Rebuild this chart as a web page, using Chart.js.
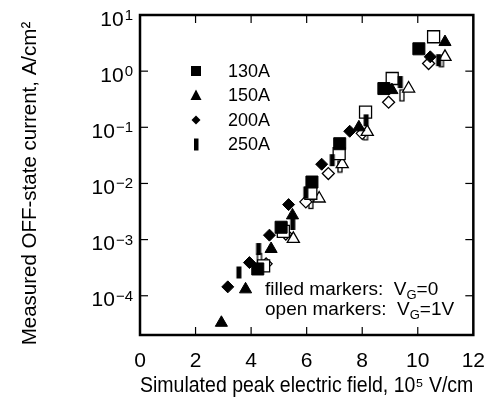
<!DOCTYPE html>
<html><head><meta charset="utf-8">
<script src="https://cdn.jsdelivr.net/npm/chart.js@4.4.1/dist/chart.umd.min.js"></script>
<style>html,body{margin:0;padding:0;background:#fff}canvas{display:block}</style>
</head><body>
<canvas id="c" width="499" height="410"></canvas>
<script>
const FONT = "'Liberation Sans', Arial, Helvetica, sans-serif";

// ---- tick labels / categories ----
const seriesNames = ['130A', '150A', '200A', '250A'];
const xTicks = [0, 2, 4, 6, 8, 10, 12];
const yTickExponents = [1, 0, -1, -2, -3, -4];
const xTitle = 'Simulated peak electric field, 10\u2075 V/cm';
const yTitle = 'Measured OFF-state current, A/cm\u00B2   ';

// ---- series: filled markers (V_G = 0) ----
const x130f = [4.24, 5.08, 6.19, 7.19, 8.78, 10.04];
const y130f = [3.0e-4, 1.66e-3, 1.06e-2, 5.1e-2, 0.49, 2.5];
const x150f = [2.93, 3.80, 4.72, 5.49, 7.88, 9.07, 10.98];
const y150f = [3.3e-5, 1.3e-4, 6.8e-4, 2.7e-3, 0.10, 0.46, 3.3];
const x200f = [3.16, 3.94, 4.66, 5.35, 6.54, 7.55, 8.90, 10.45];
const y200f = [1.44e-4, 3.9e-4, 1.2e-3, 4.2e-3, 2.2e-2, 8.5e-2, 0.50, 1.8];
const x250f = [3.56, 4.27, 5.50, 5.97, 6.92, 8.14, 9.37, 10.75];
const y250f = [2.6e-4, 6.8e-4, 1.9e-3, 6.9e-3, 2.6e-2, 0.133, 0.64, 1.57];

// ---- series: open markers (V_G = 1V) ----
const x130o = [4.45, 5.16, 6.15, 7.17, 8.12, 9.08, 10.57];
const y130o = [3.4e-4, 1.4e-3, 6.7e-3, 3.4e-2, 0.187, 0.74, 4.1];
const x150o = [5.52, 6.45, 7.28, 8.18, 9.67, 10.98];
const y150o = [1.03e-3, 5.4e-3, 2.2e-2, 8.3e-2, 0.49, 1.8];
const x200o = [4.54, 5.25, 5.97, 6.78, 8.00, 8.95, 10.39];
const y200o = [3.7e-4, 1.26e-3, 4.7e-3, 1.5e-2, 7.8e-2, 0.28, 1.37];
const x250o = [4.30, 5.20, 6.15, 7.20, 8.12, 9.43, 10.85];
const y250o = [4.5e-4, 1.6e-3, 4.5e-3, 2.0e-2, 0.075, 0.37, 1.5];

function pts(xs, ys) { return xs.map((v, i) => ({x: v, y: ys[i]})); }

function barImg(filled) {
  const c = document.createElement('canvas');
  c.width = 8; c.height = 14;
  const g = c.getContext('2d');
  if (filled) { g.fillStyle = '#000'; g.fillRect(1.5, 1, 5, 12); }
  else {
    g.fillStyle = '#fff'; g.fillRect(1.5, 1, 5, 12);
    g.strokeStyle = '#000'; g.lineWidth = 1.3; g.strokeRect(2, 1.5, 4, 11);
  }
  return c;
}

function ds(label, data, style, radius, filled) {
  return {
    label, data, pointStyle: style, pointRadius: radius,
    backgroundColor: filled ? '#000' : '#fff',
    borderColor: '#000', borderWidth: filled ? 1 : 1.3,
    showLine: false
  };
}

const datasets = [
  ds('130A filled', pts(x130f, y130f), 'rect', 8.5, true),
  ds('150A filled', pts(x150f, y150f), 'triangle', 7, true),
  ds('200A filled', pts(x200f, y200f), 'rectRot', 6, true),
  ds('250A filled', pts(x250f, y250f), barImg(true), 6, true),
  ds('130A open', pts(x130o, y130o), 'rect', 8.5, false),
  ds('150A open', pts(x150o, y150o), 'triangle', 7, false),
  ds('200A open', pts(x200o, y200o), 'rectRot', 6, false),
  ds('250A open', pts(x250o, y250o), barImg(false), 6, false)
];

function line(ctx, a, b, c, d) { ctx.beginPath(); ctx.moveTo(a, b); ctx.lineTo(c, d); ctx.stroke(); }

function legendMarker(ctx, kind, cx, cy) {
  ctx.fillStyle = '#000';
  ctx.beginPath();
  if (kind === 0) { ctx.rect(cx - 5, cy - 5, 10, 10); }
  else if (kind === 1) { ctx.moveTo(cx, cy - 6); ctx.lineTo(cx + 5.5, cy + 4.5); ctx.lineTo(cx - 5.5, cy + 4.5); ctx.closePath(); }
  else if (kind === 2) { ctx.moveTo(cx, cy - 4.5); ctx.lineTo(cx + 4.5, cy); ctx.lineTo(cx, cy + 4.5); ctx.lineTo(cx - 4.5, cy); ctx.closePath(); }
  else { ctx.rect(cx - 2, cy - 6, 4.5, 12); }
  ctx.fill();
}

const decor = {
  id: 'decor',
  afterDraw(chart) {
    const {ctx, chartArea: {left, right, top, bottom}, scales: {x, y}} = chart;
    ctx.save();
    ctx.strokeStyle = '#000';
    ctx.lineWidth = 2.5;
    ctx.strokeRect(left, top, right - left, bottom - top);
    ctx.lineWidth = 1.2;
    const tl = 8;
    xTicks.forEach(v => {
      const px = x.getPixelForValue(v);
      if (px <= left + 1 || px >= right - 1) return;
      line(ctx, px, bottom, px, bottom - tl);
      line(ctx, px, top, px, top + tl);
    });
    yTickExponents.forEach(e => {
      const py = y.getPixelForValue(Math.pow(10, e));
      if (py <= top + 1 || py >= bottom - 1) return;
      line(ctx, left, py, left + tl, py);
      line(ctx, right, py, right - tl, py);
    });
    // y tick labels 10^n
    ctx.fillStyle = '#000';
    ctx.textBaseline = 'alphabetic';
    ctx.textAlign = 'right';
    yTickExponents.forEach(e => {
      const py = y.getPixelForValue(Math.pow(10, e));
      const ex = e < 0 ? '\u2212' + Math.abs(e) : String(e);
      ctx.font = '15px ' + FONT;
      const ew = ctx.measureText(ex).width;
      const xr = 133;
      ctx.fillText(ex, xr, py + 5);
      ctx.font = '21px ' + FONT;
      ctx.fillText('10', xr - ew - 1, py + 10.5);
    });
    // legend
    ctx.textAlign = 'left';
    ctx.textBaseline = 'middle';
    seriesNames.forEach((n, i) => {
      const cy = 71 + i * 24.5;
      legendMarker(ctx, i, 196, cy);
      ctx.font = '18px ' + FONT;
      ctx.fillStyle = '#000';
      ctx.fillText(n, 228, cy + 1);
    });
    // annotation
    ctx.textBaseline = 'alphabetic';
    const rows = [['filled markers:  V', 'G', '=0', 295], ['open markers:  V', 'G', '=1V', 315]];
    rows.forEach(r => {
      let xx = 265;
      ctx.font = '19px ' + FONT;
      ctx.fillText(r[0], xx, r[3]);
      xx += ctx.measureText(r[0]).width;
      ctx.font = '13px ' + FONT;
      ctx.fillText(r[1], xx, r[3] + 4);
      xx += ctx.measureText(r[1]).width;
      ctx.font = '19px ' + FONT;
      ctx.fillText(r[2], xx, r[3]);
    });
    ctx.restore();
  }
};

new Chart(document.getElementById('c'), {
  type: 'scatter',
  data: {datasets},
  options: {
    responsive: false,
    animation: false,
    devicePixelRatio: 1,
    events: [],
    layout: {padding: {left: 0, right: 24, top: 15, bottom: 0}},
    plugins: {legend: {display: false}, tooltip: {enabled: false}},
    scales: {
      x: {
        type: 'linear', min: 0, max: 12,
        afterBuildTicks(s) { s.ticks = xTicks.map(v => ({value: v})); },
        afterFit(s) { s.height = 75; },
        grid: {display: false, drawTicks: false},
        border: {display: false},
        ticks: {color: '#000', font: {family: FONT, size: 21}, padding: 14, maxRotation: 0},
        title: {display: true, text: xTitle, color: '#000', font: {family: FONT, size: 21.5}, padding: {top: 0, bottom: 11}}
      },
      y: {
        type: 'logarithmic', min: 2e-5, max: 10,
        afterFit(s) { s.width = 140; },
        grid: {display: false, drawTicks: false},
        border: {display: false},
        ticks: {display: false},
        title: {display: true, text: yTitle, color: '#000', font: {family: FONT, size: 20.5}, padding: {top: 18, bottom: 0}}
      }
    }
  },
  plugins: [decor]
});
</script>
</body></html>
